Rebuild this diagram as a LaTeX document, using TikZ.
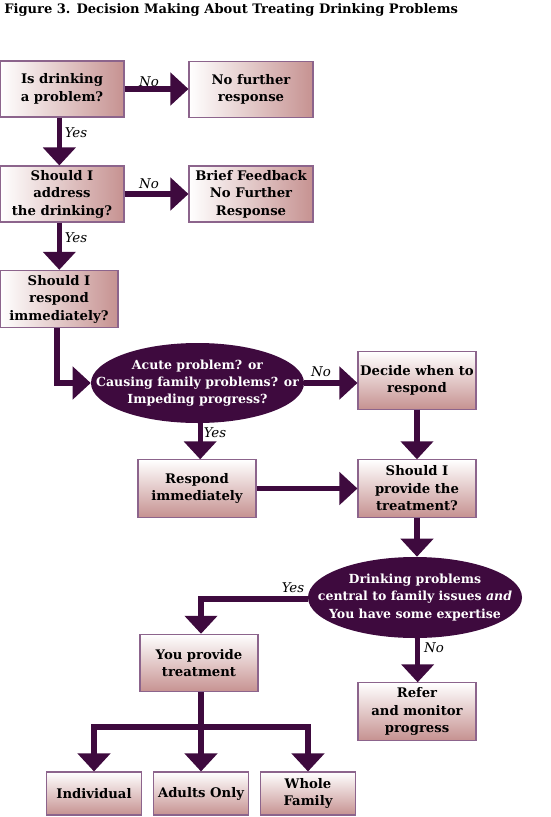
\documentclass[tikz,border=0pt]{standalone}
\usepackage{fontspec}
\setmainfont{DejaVu Serif}
\usetikzlibrary{arrows.meta,shapes.geometric}
\definecolor{pinkC}{RGB}{198,146,145}
\definecolor{borderC}{RGB}{140,100,140}
\definecolor{purpC}{RGB}{62,10,62}
\tikzset{
  boxtxt/.style={font=\bfseries\fontsize{9.9}{13.1}\selectfont, align=center, text=black},
  hbox/.style={boxtxt, draw=borderC, line width=0.8pt, inner sep=0pt, left color=white, right color=pinkC},
  vbox/.style={boxtxt, draw=borderC, line width=0.8pt, inner sep=0pt, top color=white, bottom color=pinkC},
  wide/.style={minimum width=93pt, minimum height=42pt},
  mid/.style={minimum width=88.5pt, minimum height=43pt},
  small/.style={minimum width=71.25pt, minimum height=32.25pt},
  oval/.style={ellipse, fill=purpC, draw=none, inner sep=0pt},
  ovaltxt/.style={font=\bfseries\fontsize{9.4}{13}\selectfont, align=center, text=white},
  flow/.style={draw=purpC, line width=4pt, -{Triangle[length=13.5pt,width=24pt]}},
  lbl/.style={font=\itshape\fontsize{10}{12}\selectfont, text=black, inner sep=0pt},
}
\begin{document}
\begin{tikzpicture}[x=0.75pt,y=-0.75pt]
\useasboundingbox (0,0) rectangle (550,817);
\node[anchor=west, font=\bfseries\fontsize{9.8}{12}\selectfont, inner sep=0pt] (title) at (4,10) {Figure 3. Decision Making About Treating Drinking Problems};

\node[hbox, wide] (b1) at (62,89) {Is drinking\\a problem?};
\node[hbox, wide] (nf) at (251,89.5) {No further\\response};
\node[hbox, wide] (b2) at (62,194) {Should I\\address\\the drinking?};
\node[hbox, wide] (bf) at (251,194) {Brief Feedback\\No Further\\Response};
\node[hbox, mid] (b3) at (59,299) {Should I\\respond\\immediately?};

\node[oval, minimum width=159.75pt, minimum height=60pt] (e1) at (197.5,383) {};
\node[ovaltxt] (e1t) at (e1.center) {Acute problem? or\\Causing family problems? or\\Impeding progress?};

\node[vbox, mid] (dw) at (417,380.5) {Decide when to\\respond};
\node[vbox, mid] (ri) at (197,488.5) {Respond\\immediately};
\node[vbox, mid] (pt) at (417,488.5) {Should I\\provide the\\treatment?};

\node[oval, minimum width=160.5pt, minimum height=60.75pt] (e2) at (415,597.5) {};
\node[ovaltxt] (e2t) at (e2.center) {Drinking problems\\central to family issues \textit{and}\\You have some expertise};

\node[vbox, mid] (yp) at (199,663) {You provide\\treatment};
\node[vbox, mid] (rm) at (417,711.5) {Refer\\and monitor\\progress};

\node[vbox, small] (ind) at (94,793.5) {Individual};
\node[vbox, small] (ad) at (201,793.5) {Adults Only};
\node[vbox, small] (wf) at (308,793.5) {Whole\\Family};

\coordinate (bar) at (201,727);

\draw[flow] (b1.east) -- (nf.west |- b1.east);
\draw[flow] ([xshift=-2pt]b1.south) -- ([xshift=-2pt]b2.north);
\draw[flow] (b2.east) -- (bf.west |- b2.east);
\draw[flow] ([xshift=-2pt]b2.south) -- ([xshift=-2pt]b2.south |- b3.north);
\draw[flow] ([xshift=-1.5pt]b3.south) |- (e1.west);
\draw[flow] (e1.east) -- (dw.west |- e1.east);
\draw[flow] ([xshift=2pt]e1.south) -- ([xshift=2pt]e1.south |- ri.north);
\draw[flow] (dw.south) -- (pt.north);
\draw[flow] (ri.east) -- (pt.west |- ri.east);
\draw[flow] (pt.south) -- (pt.south |- e2.north);
\draw[flow] ([yshift=-1pt]e2.west) -| (bar |- yp.north);
\draw[flow] ([xshift=2pt]e2.south) -- ([xshift=2pt]e2.south |- rm.north);
\draw[flow] (bar |- yp.south) -- (bar |- ad.north);
\draw[flow] (bar) -| (ind.north);
\draw[flow] (bar) -| (wf.north);

\node[lbl] (l1) at (149,82) {No};
\node[lbl] (l2) at (76,133) {Yes};
\node[lbl] (l3) at (149,184) {No};
\node[lbl] (l4) at (76,238) {Yes};
\node[lbl] (l5) at (321,372) {No};
\node[lbl] (l6) at (215,433) {Yes};
\node[lbl] (l7) at (293,588) {Yes};
\node[lbl] (l8) at (434,648) {No};
\end{tikzpicture}
\end{document}
